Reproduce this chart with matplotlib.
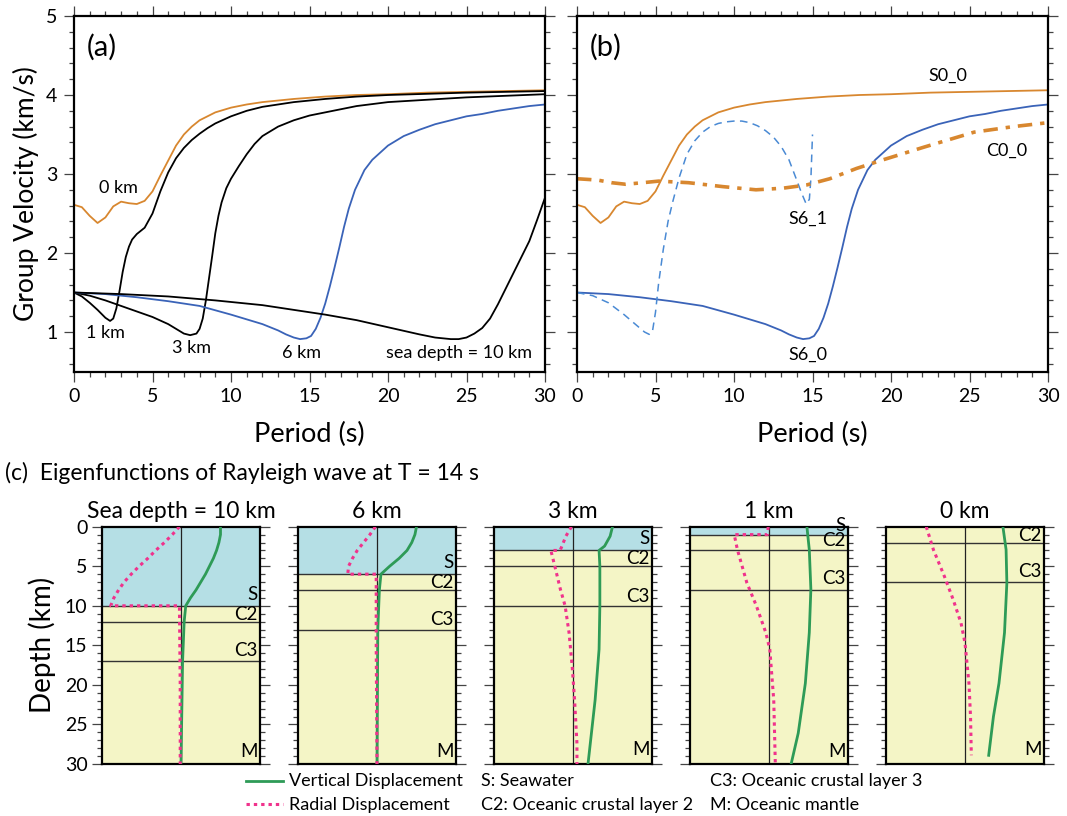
import numpy as np
import matplotlib
matplotlib.use("Agg")
import matplotlib.pyplot as plt
from matplotlib.ticker import MultipleLocator
from matplotlib.lines import Line2D

plt.rcParams['font.family'] = ['Lato', 'DejaVu Sans']

# ---------------- data: group velocity dispersion curves ----------------
T_0km = [0, 0.5, 1.0, 1.5, 2.0, 2.5, 3.0, 3.5, 4.0, 4.5, 5.0, 5.5, 6.0, 6.5, 7.0, 7.5, 8.0, 8.5,
         9.0, 9.5, 10, 11, 12, 13, 14, 16, 18, 20, 22.5, 25, 27.5, 30]
v_0km = [2.61, 2.58, 2.47, 2.38, 2.45, 2.59, 2.65, 2.63, 2.62, 2.66, 2.78, 2.98, 3.17, 3.36, 3.50,
         3.60, 3.68, 3.73, 3.78, 3.81, 3.84, 3.88, 3.91, 3.93, 3.95, 3.98, 4.00, 4.01, 4.03, 4.04,
         4.05, 4.06]

T_1km = [0, 0.5, 1.0, 1.5, 2.0, 2.3, 2.5, 2.7, 2.9, 3.1, 3.3, 3.5, 3.7, 4.0, 4.5, 5.0, 5.5, 6.0,
         6.5, 7.0, 7.5, 8.0, 8.5, 9.0, 10, 11, 12, 13, 14, 16, 18, 20, 25, 30]
v_1km = [1.50, 1.45, 1.37, 1.28, 1.18, 1.14, 1.17, 1.30, 1.52, 1.76, 1.95, 2.08, 2.17, 2.24, 2.32,
         2.50, 2.78, 3.02, 3.20, 3.33, 3.43, 3.51, 3.58, 3.64, 3.73, 3.80, 3.85, 3.88, 3.91, 3.95,
         3.98, 4.00, 4.03, 4.05]

T_3km = [0, 1, 2, 3, 4, 5, 6, 6.5, 7.0, 7.4, 7.8, 8.0, 8.2, 8.4, 8.6, 8.8, 9.0, 9.2, 9.4, 9.7,
         10.0, 10.5, 11, 11.5, 12, 13, 14, 15, 16, 18, 20, 22.5, 25, 27.5, 30]
v_3km = [1.50, 1.46, 1.40, 1.33, 1.26, 1.19, 1.10, 1.04, 0.98, 0.96, 0.98, 1.04, 1.17, 1.40, 1.68,
         1.96, 2.25, 2.47, 2.64, 2.82, 2.94, 3.10, 3.25, 3.38, 3.48, 3.60, 3.68, 3.74, 3.78, 3.86,
         3.91, 3.94, 3.97, 3.99, 4.01]

T_6km = [0, 2, 4, 6, 8, 10, 11, 12, 13, 13.5, 14.0, 14.4, 14.8, 15.1, 15.4, 15.7, 16.0, 16.3,
         16.6, 16.9, 17.2, 17.5, 17.9, 18.5, 19.0, 20.0, 21.0, 22.0, 23.0, 24.0, 25.0, 26.0, 27.0,
         28.0, 29.0, 30]
v_6km = [1.50, 1.48, 1.44, 1.39, 1.33, 1.22, 1.16, 1.10, 1.02, 0.97, 0.93, 0.91, 0.92, 0.95, 1.04,
         1.18, 1.36, 1.58, 1.82, 2.07, 2.33, 2.56, 2.80, 3.05, 3.18, 3.36, 3.48, 3.56, 3.63, 3.68,
         3.73, 3.76, 3.80, 3.83, 3.86, 3.88]

T_10km = [0, 3, 6, 9, 12, 14, 16, 18, 20, 22, 23, 24, 24.5, 25, 25.5, 26, 26.5, 27, 27.5, 28,
          28.5, 29, 29.5, 30]
v_10km = [1.50, 1.48, 1.45, 1.40, 1.34, 1.28, 1.22, 1.15, 1.06, 0.97, 0.93, 0.91, 0.91, 0.93,
          0.98, 1.05, 1.17, 1.35, 1.55, 1.75, 1.95, 2.15, 2.42, 2.70]

T_S61 = [0, 1, 2, 3, 4, 4.3, 4.6, 4.8, 5.0, 5.2, 5.5, 5.8, 6.1, 6.5, 7.0, 7.5, 8.0, 8.5, 9.0, 9.5,
         10, 10.5, 11, 11.5, 12, 12.5, 13, 13.5, 14, 14.3, 14.6, 14.8, 14.9, 15.0]
v_S61 = [1.50, 1.46, 1.37, 1.22, 1.05, 1.00, 0.97, 1.00, 1.25, 1.62, 2.05, 2.40, 2.65, 2.95, 3.25,
         3.42, 3.53, 3.60, 3.64, 3.66, 3.67, 3.67, 3.65, 3.61, 3.55, 3.47, 3.35, 3.18, 2.92, 2.76,
         2.62, 2.68, 2.95, 3.50]

T_C00 = [0, 0.8, 1.4, 2.2, 3.1, 4.2, 5.2, 7.1, 9.3, 11.4, 13.1, 14.6, 16.1, 17.8, 19.5, 22.1,
         25.3, 27.8, 30]
v_C00 = [2.94, 2.93, 2.92, 2.89, 2.87, 2.89, 2.91, 2.89, 2.84, 2.80, 2.82, 2.86, 2.94, 3.07,
         3.18, 3.34, 3.53, 3.60, 3.65]

# ---------------- data: eigenfunctions (normalized amplitude, depth km) ----------------
panel_titles = ["Sea depth = 10 km", "6 km", "3 km", "1 km", "0 km"]
sea_depths = [10, 6, 3, 1, 0]
layer_lines = [[10, 12, 17], [6, 8, 13], [3, 5, 10], [1, 3, 8], [2, 7]]

vert_x = [
    [0.50, 0.50, 0.48, 0.45, 0.41, 0.36, 0.31, 0.25, 0.19, 0.12, 0.06, 0.04, 0.02, 0.0],
    [0.50, 0.48, 0.44, 0.38, 0.28, 0.16, 0.05, 0.03, 0.01, 0.0],
    [0.50, 0.47, 0.40, 0.33, 0.34, 0.34, 0.33, 0.28, 0.19],
    [0.48, 0.49, 0.51, 0.53, 0.51, 0.46, 0.37, 0.28],
    [0.48, 0.52, 0.53, 0.50, 0.43, 0.36, 0.30],
]
vert_d = [
    [0, 1, 2, 3, 4, 5, 6, 7, 8, 9, 10, 12, 17, 30],
    [0, 1, 2, 3, 4, 5, 6, 8, 13, 30],
    [0, 1.2, 2.45, 3, 5, 10, 15.5, 21.9, 30],
    [0, 1, 2.9, 7.9, 13.4, 19.8, 26.1, 30],
    [0, 2.9, 7.1, 13.4, 19.8, 24, 28.9],
]
rad_x = [
    [-0.02, -0.11, -0.21, -0.32, -0.42, -0.53, -0.63, -0.72, -0.79, -0.85, -0.89, -0.02, -0.01, -0.01],
    [-0.02, -0.09, -0.17, -0.25, -0.31, -0.36, -0.37, -0.01, -0.01, 0.0],
    [-0.02, -0.09, -0.15, -0.17, -0.28, -0.23, -0.16, -0.10, -0.05, -0.01, 0.02, 0.05, 0.05],
    [-0.01, -0.02, -0.44, -0.40, -0.28, -0.16, -0.04, 0.01, 0.06, 0.08],
    [-0.49, -0.40, -0.26, -0.15, -0.05, 0.0, 0.05, 0.07, 0.08],
]
rad_d = [
    [0, 1, 2, 3, 4, 5, 6, 7, 8, 9, 10, 10, 20, 30],
    [0, 1, 2, 3, 4, 5, 6, 6, 15, 30],
    [0, 1.2, 2.7, 3, 3, 5, 7.9, 10, 13.4, 17.7, 21.9, 27.4, 30],
    [0, 1, 1, 2.9, 7.1, 10, 13.4, 15.5, 21.9, 30],
    [0, 2.9, 6.3, 9.2, 12.2, 14.7, 19.8, 24, 28.9],
]
layer_labels = [
    [("S", 8.6), ("C2", 11.1), ("C3", 15.7), ("M", 28.4)],
    [("S", 4.5), ("C2", 7.0), ("C3", 11.7), ("M", 28.4)],
    [("S", 1.5), ("C2", 4.0), ("C3", 8.8), ("M", 28.2)],
    [("S", -0.1), ("C2", 1.8), ("C3", 6.5), ("M", 28.4)],
    [("C2", 1.1), ("C3", 5.7), ("M", 28.2)],
]

# ---------------- styles ----------------
ORANGE = "#D8872F"
BLUE = "#3A63B8"
LBLUE = "#4A8AD4"
GREEN = "#2E9B57"
PINK = "#F0328C"
SEA = "#B5DFE5"
LAND = "#F4F5C6"
TICKC = "#444444"

fig = plt.figure(figsize=(10.67, 8.16), dpi=100)
W, H = 1067.0, 816.0


def fig_rect(l, t, r, b):
    return [l / W, 1 - b / H, (r - l) / W, (b - t) / H]


def style_top(ax, ylabels=True):
    ax.set_xlim(0, 30)
    ax.set_ylim(0.5, 5)
    ax.xaxis.set_major_locator(MultipleLocator(5))
    ax.xaxis.set_minor_locator(MultipleLocator(1))
    ax.yaxis.set_major_locator(MultipleLocator(1))
    ax.yaxis.set_minor_locator(MultipleLocator(0.2))
    ax.tick_params(which='both', direction='out', top=True, right=True, color=TICKC, width=0.9)
    ax.tick_params(which='major', length=7, labelsize=14, pad=5)
    ax.tick_params(which='minor', length=3.5)
    ax.tick_params(axis='y', labelleft=ylabels)
    for s in ax.spines.values():
        s.set_linewidth(1.6)
    ax.set_xlabel("Period (s)", fontsize=19.5, labelpad=12)


axa = fig.add_axes(fig_rect(74, 16, 545, 371.5))
style_top(axa)
axa.plot(T_0km, v_0km, color=ORANGE, lw=1.3)
axa.plot(T_1km, v_1km, color="black", lw=1.3)
axa.plot(T_3km, v_3km, color="black", lw=1.3)
axa.plot(T_6km, v_6km, color=BLUE, lw=1.3)
axa.plot(T_10km, v_10km, color="black", lw=1.3)
axa.set_ylabel("Group Velocity (km/s)", fontsize=19, labelpad=5)
axa.text(0.8, 4.61, "(a)", fontsize=21, va='center', ha='left')
lab_kw = dict(fontsize=13, ha='center', va='center')
axa.text(2.83, 2.82, "0 km", **lab_kw)
axa.text(2.0, 0.99, "1 km", **lab_kw)
axa.text(7.5, 0.80, "3 km", **lab_kw)
axa.text(14.5, 0.74, "6 km", **lab_kw)
axa.text(24.5, 0.74, "sea depth = 10 km", **lab_kw)

axb = fig.add_axes(fig_rect(577, 16, 1048, 371.5))
style_top(axb, ylabels=False)
axb.plot(T_0km, v_0km, color=ORANGE, lw=1.3)
axb.plot(T_6km, v_6km, color=BLUE, lw=1.3)
axb.plot(T_S61, v_S61, color=LBLUE, lw=1.1, dashes=(5, 3.5))
axb.plot(T_C00, v_C00, color=ORANGE, lw=2.6, dashes=(4, 2.2, 1.2, 2.2))
axb.text(0.8, 4.61, "(b)", fontsize=21, va='center', ha='left')
axb.text(23.6, 4.24, "S0_0", **lab_kw)
axb.text(27.4, 3.29, "C0_0", **lab_kw)
axb.text(14.7, 2.43, "S6_1", **lab_kw)
axb.text(14.7, 0.71, "S6_0", **lab_kw)

# ---------------- panel (c) ----------------
fig.text(5 / W, 1 - 473 / H, "(c)  Eigenfunctions of Rayleigh wave at T = 14 s",
         fontsize=16.5, ha='left', va='center')

lefts = [102, 298, 494, 690, 886]
for i in range(5):
    ax = fig.add_axes(fig_rect(lefts[i], 526.7, lefts[i] + 158, 764))
    ax.set_xlim(-1, 1)
    ax.set_ylim(30, 0)
    ax.axhspan(0, sea_depths[i], color=SEA, zorder=0, lw=0)
    ax.axhspan(sea_depths[i], 30, color=LAND, zorder=0, lw=0)
    for d in layer_lines[i]:
        ax.axhline(d, color="#333333", lw=1.0, zorder=1)
    ax.axvline(0, color="#222222", lw=0.9, zorder=1)
    ax.plot(vert_x[i], vert_d[i], color=GREEN, lw=2.0, zorder=3)
    ax.plot(rad_x[i], rad_d[i], color=PINK, lw=2.2, dashes=(1.1, 1.3), zorder=3)
    for txt, d in layer_labels[i]:
        ax.text(0.97, d, txt, fontsize=13.5, ha='right', va='center', zorder=4)
    ax.set_xticks([])
    ax.yaxis.set_major_locator(MultipleLocator(5))
    ax.yaxis.set_minor_locator(MultipleLocator(1))
    ax.tick_params(axis='y', which='both', direction='out', left=True, right=True,
                   color=TICKC, width=0.9, labelleft=(i == 0), labelsize=14)
    ax.tick_params(axis='y', which='major', length=7)
    ax.tick_params(axis='y', which='minor', length=3.5)
    for s in ax.spines.values():
        s.set_linewidth(1.6)
    ax.set_title(panel_titles[i], fontsize=16.5, pad=6)
    if i == 0:
        ax.set_ylabel("Depth (km)", fontsize=20, labelpad=6)

# legend / key
fig.add_artist(Line2D([246 / W, 283 / W], [1 - 781 / H, 1 - 781 / H], color=GREEN, lw=2.0))
fig.add_artist(Line2D([246 / W, 283 / W], [1 - 804 / H, 1 - 804 / H], color=PINK, lw=2.2,
                      dashes=(1.1, 1.3)))
key_kw = dict(fontsize=13, ha='left', va='center')
fig.text(289 / W, 1 - 781 / H, "Vertical Displacement", **key_kw)
fig.text(289 / W, 1 - 805 / H, "Radial Displacement", **key_kw)
fig.text(481 / W, 1 - 781 / H, "S: Seawater", **key_kw)
fig.text(481 / W, 1 - 805 / H, "C2: Oceanic crustal layer 2", **key_kw)
fig.text(710 / W, 1 - 781 / H, "C3: Oceanic crustal layer 3", **key_kw)
fig.text(710 / W, 1 - 805 / H, "M: Oceanic mantle", **key_kw)

fig.savefig("out.png", dpi=100)
